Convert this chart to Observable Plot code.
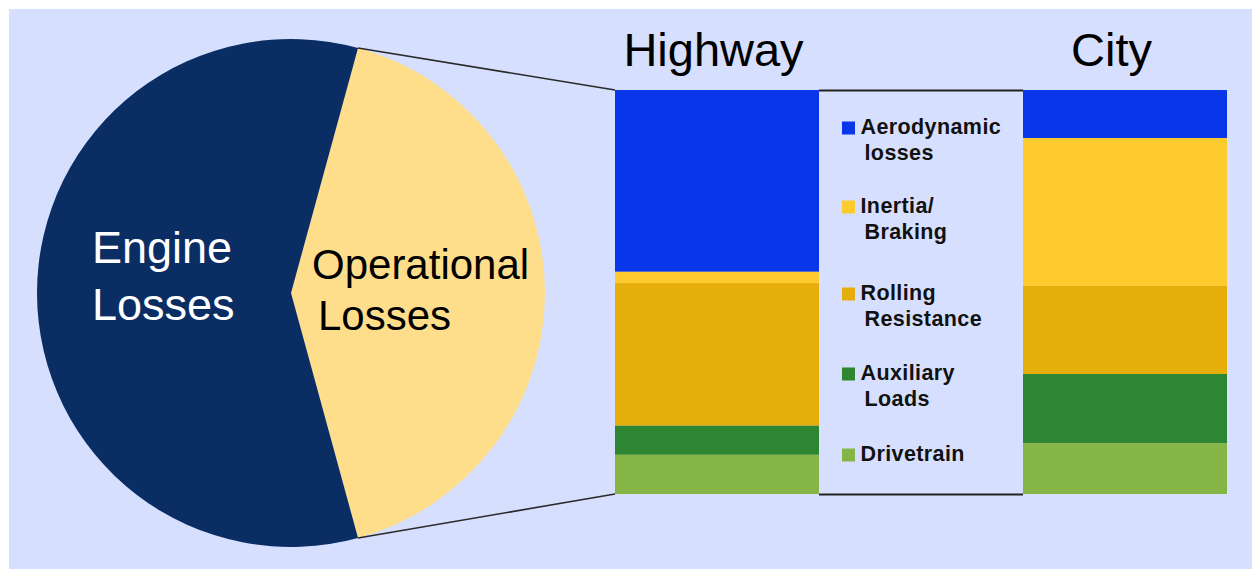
<!DOCTYPE html>
<html><head><meta charset="utf-8">
<script src="https://cdn.jsdelivr.net/npm/d3@7"></script>
<script src="https://cdn.jsdelivr.net/npm/@observablehq/plot@0.6"></script>
<style>
html,body{margin:0;padding:0;background:#fff;}
#wrap{position:relative;width:1252px;height:569px;overflow:hidden;}
#bg{position:absolute;left:9px;top:9px;right:0;bottom:0;background:#d6dffd;}
#chart{position:absolute;left:0;top:0;}
</style></head>
<body><div id="wrap"><div id="bg"></div><div id="chart"></div></div>
<script>
// ---- data ----
const components = ["Aerodynamic losses", "Inertia/ Braking", "Rolling Resistance", "Auxiliary Loads", "Drivetrain"];
const legendLines = [["Aerodynamic", "losses"], ["Inertia/", "Braking"], ["Rolling", "Resistance"], ["Auxiliary", "Loads"], ["Drivetrain"]];
const componentColors = ["#0836e8", "#fecb2f", "#e6ae0a", "#2e8532", "#86b547"];
const roads = ["Highway", "City"];
const highwayValues = [45.0, 2.8, 35.3, 7.2, 9.7];
const cityValues = [11.9, 36.6, 21.8, 17.1, 12.6];
const pieLabels = [["Operational", "Losses"], ["Engine", "Losses"]];
const pieValues = [41.5, 58.5];
const pieColors = ["#fedd8b", "#0a2d63"];

const barData = [];
components.forEach((c, i) => {
  barData.push({road: "Highway", component: c, value: highwayValues[i]});
  barData.push({road: "City", component: c, value: cityValues[i]});
});
const pieData = pieLabels.map((l, i) => ({lines: l, value: pieValues[i], color: pieColors[i]}));

const font = "'Liberation Sans', Arial, sans-serif";

function pieAndLegend(index, scales) {
  const x = scales.x, y = scales.y;
  const g = d3.create("svg:g").attr("text-anchor", "start");
  // pie
  const cx = 291, cy = 293, r = 254;
  const a0 = 15.3 * Math.PI / 180;
  const arcs = d3.pie().sort(null).value(d => d.value).startAngle(a0).endAngle(a0 + 2 * Math.PI)(pieData);
  const arc = d3.arc().innerRadius(0).outerRadius(r);
  const pg = g.append("g").attr("transform", `translate(${cx},${cy})`);
  pg.selectAll("path").data(arcs).join("path").attr("d", arc).attr("fill", d => d.data.color);
  // pie labels
  const lab = [
    {dx: [21, 27], dy: [-14, 37], size: 42, fill: "#000"},
    {dx: [-199, -199], dy: [-30, 27], size: 45, fill: "#fff"}
  ];
  arcs.forEach((a, i) => {
    a.data.lines.forEach((t, j) => {
      pg.append("text").attr("x", lab[i].dx[j]).attr("y", lab[i].dy[j])
        .attr("text-anchor", "start")
        .attr("font-size", lab[i].size).attr("fill", lab[i].fill)
        .attr("font-family", font).text(t);
    });
  });
  // connectors
  const op = arcs[0];
  const pt = a => [cx + r * Math.sin(a), cy - r * Math.cos(a)];
  const bx = x("Highway");
  const ends = [[pt(op.startAngle), [bx, y(100)]], [pt(op.endAngle), [bx, y(0)]]];
  ends.forEach(([p, q]) => {
    g.append("line").attr("x1", p[0]).attr("y1", p[1]).attr("x2", q[0]).attr("y2", q[1])
      .attr("stroke", "#2a2a2a").attr("stroke-width", 1.6);
  });
  // legend
  const lx = x("legend");
  const top = y(100);
  const offs = [44, 123, 210, 290, 371];
  legendLines.forEach((lines, i) => {
    const base = top + offs[i];
    g.append("rect").attr("x", lx + 23).attr("y", base - 12.5).attr("width", 13).attr("height", 13)
      .attr("fill", componentColors[i]);
    lines.forEach((t, j) => {
      g.append("text").attr("x", lx + 41.5 + (j ? 4 : 0)).attr("y", base + 26 * j)
        .attr("text-anchor", "start")
        .attr("font-size", 21.5).attr("font-weight", "bold").attr("fill", "#111")
        .attr("font-family", font).attr("letter-spacing", 0.4).text(t);
    });
  });
  return g.node();
}

const plot = Plot.plot({
  width: 1252,
  height: 569,
  margin: 0,
  style: {background: "transparent", fontFamily: font, overflow: "visible"},
  x: {type: "band", domain: ["Highway", "legend", "City"], range: [614, 1228], padding: 0, axis: null},
  y: {domain: [0, 100], range: [494, 90], axis: null},
  color: {domain: components, range: componentColors},
  marks: [
    Plot.barY(barData, {x: "road", y: "value", fill: "component", order: components.slice().reverse()}),
    Plot.tickY([0, 100], {x: () => "legend", y: d => d, stroke: "#222", strokeWidth: 2}),
    pieAndLegend,
    Plot.text([roads[0]], {x: d => d, y: () => 100, dy: -40, dx: -4, fontSize: 47, fill: "#000"}),
    Plot.text([roads[1]], {x: d => d, y: () => 100, dy: -40, dx: -14, fontSize: 47, fill: "#000"})
  ]
});
document.getElementById("chart").appendChild(plot);
</script>
</body></html>
